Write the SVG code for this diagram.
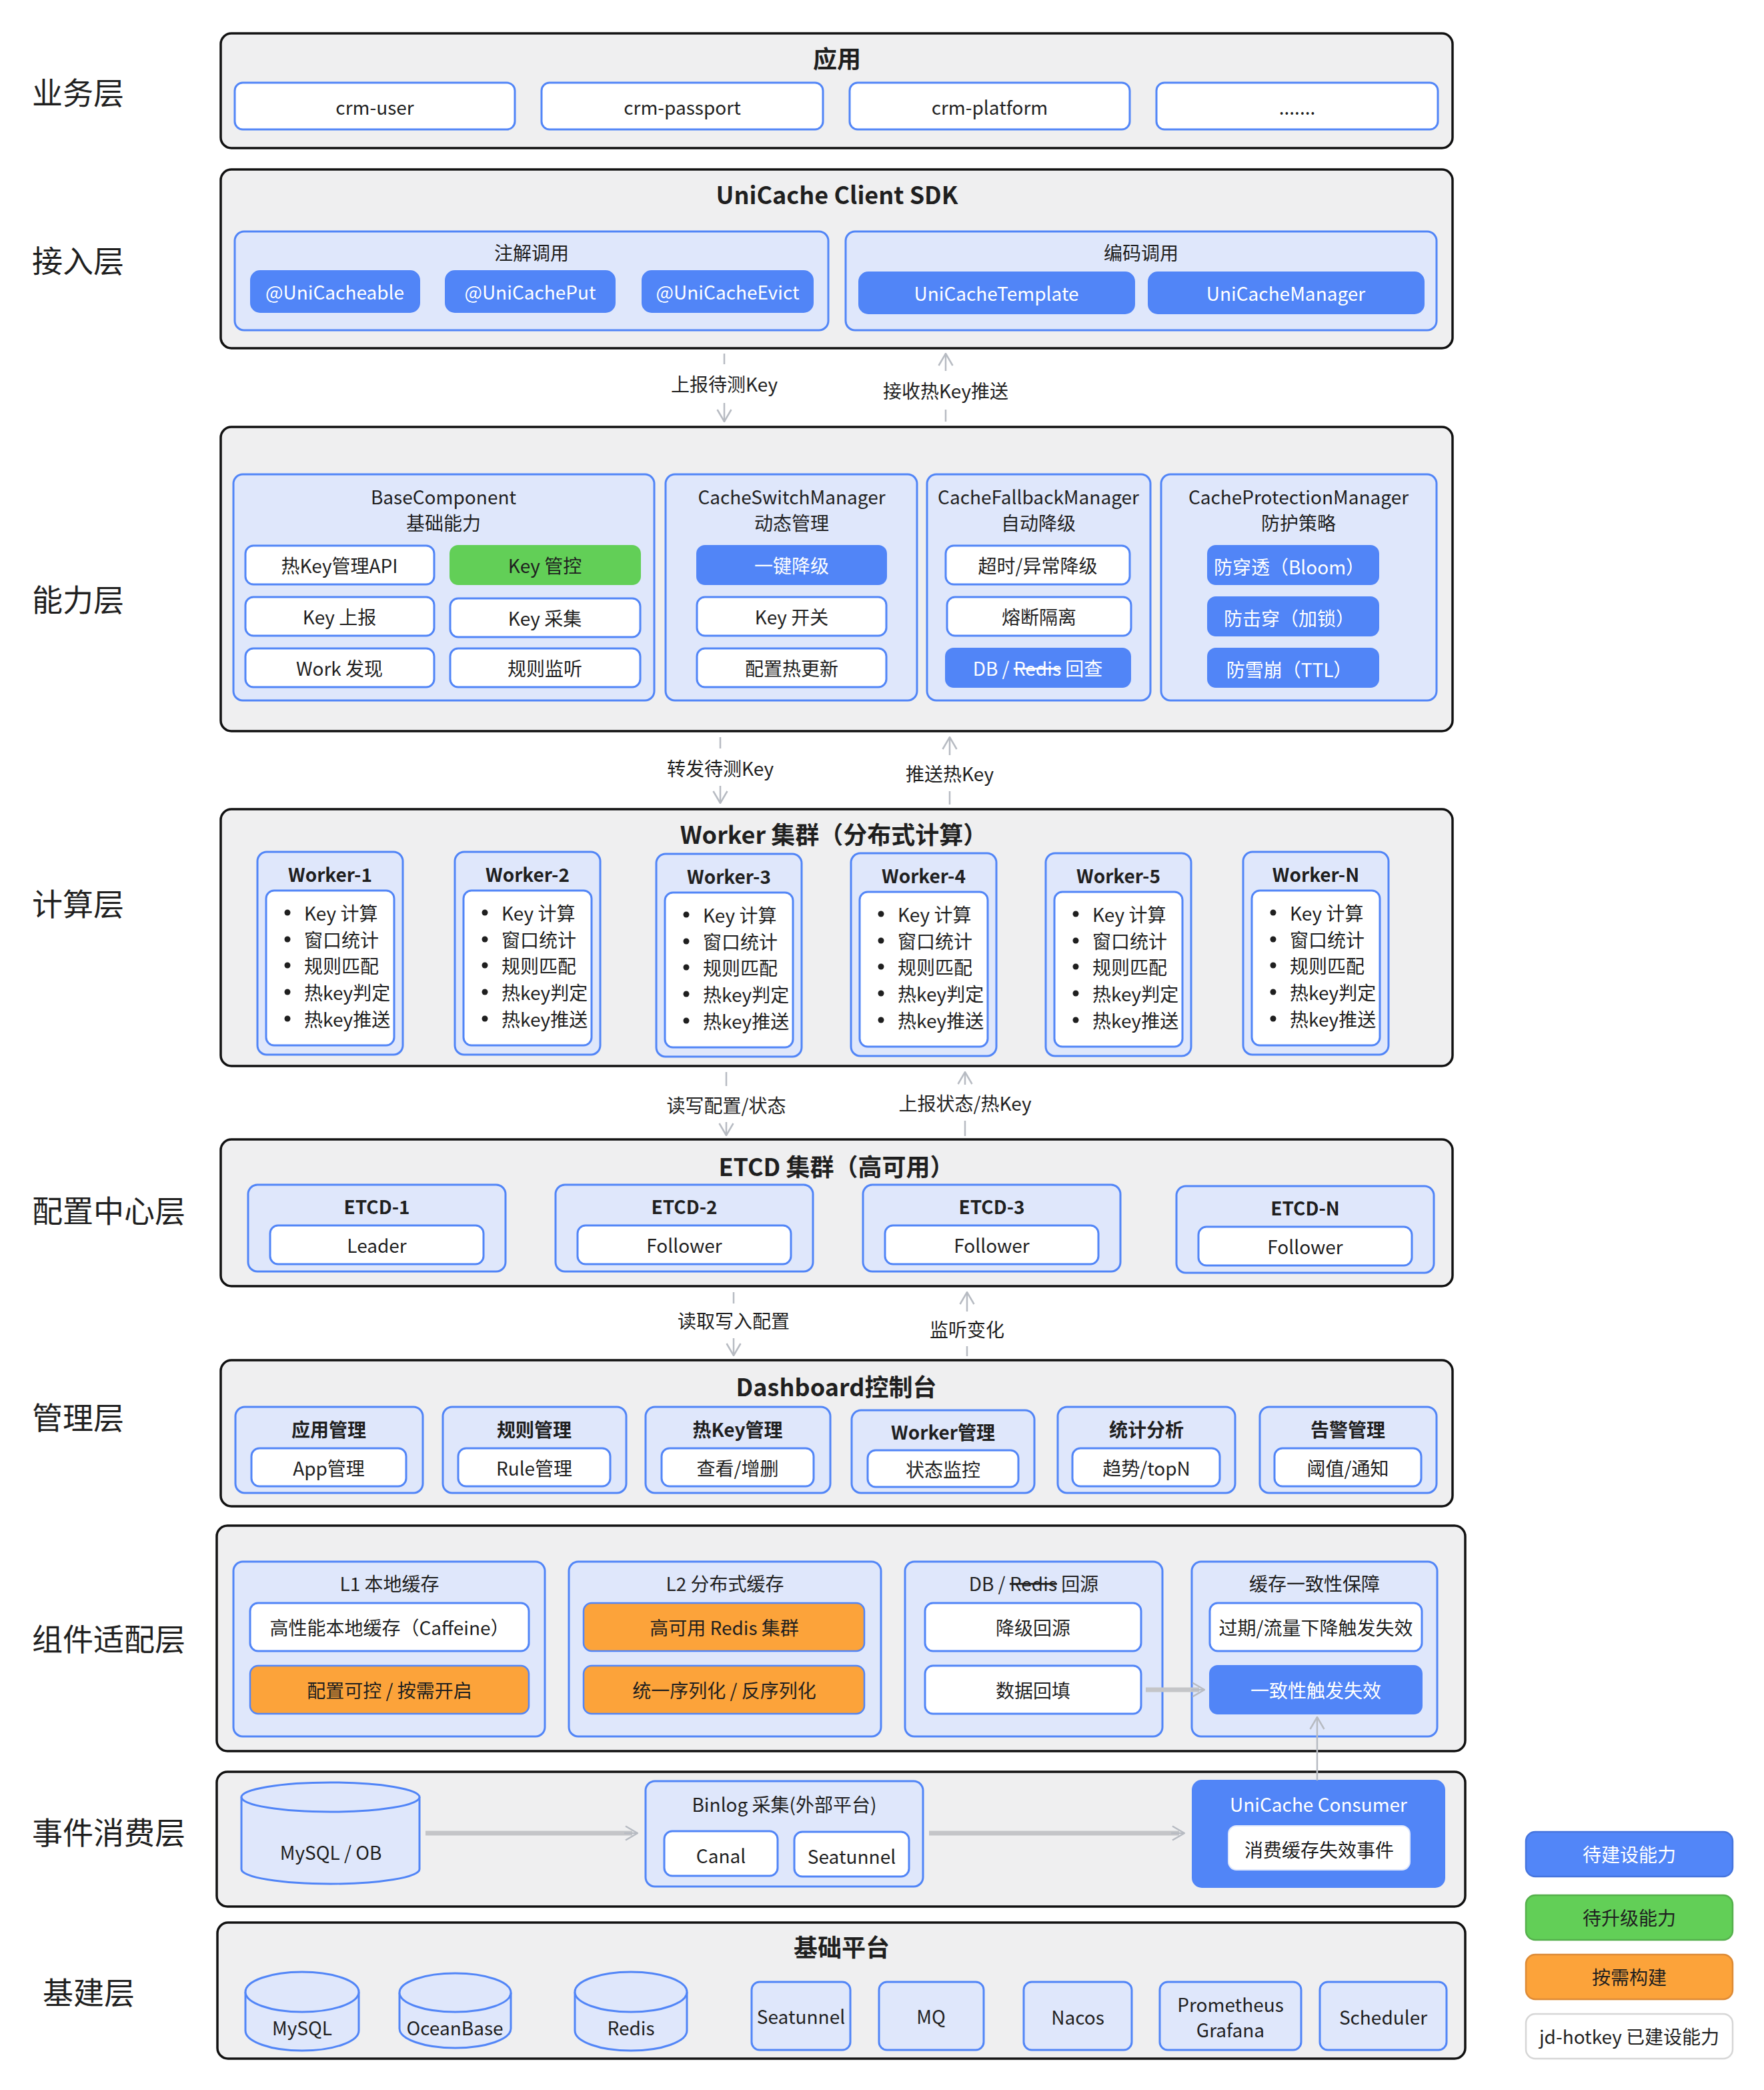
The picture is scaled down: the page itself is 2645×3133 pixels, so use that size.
<svg xmlns="http://www.w3.org/2000/svg" width="2645" height="3133" viewBox="0 0 2645 3133">
<style>
text{font-family:"Noto Sans CJK SC","Noto Sans",sans-serif;fill:#1f1f1f;text-anchor:middle;dominant-baseline:central;font-size:28px}
.lay{font-size:46px;text-anchor:start}
.h{font-size:36px;font-weight:700}
.b{font-weight:700}
.w{fill:#fff}
.l{text-anchor:start}
.cont{fill:#efeff0;stroke:#111;stroke-width:3.5}
.grp{fill:#dfe7fb;stroke:#5185f7;stroke-width:3}
.wn{fill:#fff;stroke:#5185f7;stroke-width:3}
.bn{fill:#5185f7;stroke:#5185f7;stroke-width:2}
.gn{fill:#62cf57;stroke:#62cf57;stroke-width:2}
.on{fill:#fca33a;stroke:#5185f7;stroke-width:2.5}
.cyl{fill:#dfe7fb;stroke:#5185f7;stroke-width:3}
.conn{stroke:#b7bbc2;stroke-width:2.5;fill:none}
.thick{stroke:#c4c5c8;stroke-width:7;fill:none}
.dot{fill:#1f1f1f}
</style>
<defs>
<marker id="ah" viewBox="0 0 20 24" markerWidth="20" markerHeight="24" refX="19" refY="12" orient="auto" markerUnits="userSpaceOnUse">
<path d="M1,1.5 L19,12 L1,22.5" fill="none" stroke="#b7bbc2" stroke-width="2.5"/>
</marker>
</defs>
<rect width="2645" height="3133" fill="#fff"/>

<g id="layer-labels">
<text class="lay" x="48" y="136">业务层</text>
<text class="lay" x="48" y="388">接入层</text>
<text class="lay" x="48" y="896">能力层</text>
<text class="lay" x="48" y="1352">计算层</text>
<text class="lay" x="48" y="1812">配置中心层</text>
<text class="lay" x="48" y="2122">管理层</text>
<text class="lay" x="48" y="2454">组件适配层</text>
<text class="lay" x="48" y="2744">事件消费层</text>
<text class="lay" x="64" y="2984">基建层</text>
</g>

<g id="business-layer">
<rect class="cont" x="331" y="50" width="1847" height="172" rx="16"/>
<text class="h" x="1255" y="86">应用</text>
<g id="crm-user"><rect class="wn" x="352" y="124" width="420" height="70" rx="12"/><text x="562" y="160">crm-user</text></g>
<g id="crm-passport"><rect class="wn" x="812" y="124" width="422" height="70" rx="12"/><text x="1023" y="160">crm-passport</text></g>
<g id="crm-platform"><rect class="wn" x="1274" y="124" width="420" height="70" rx="12"/><text x="1484" y="160">crm-platform</text></g>
<g id="app-more"><rect class="wn" x="1734" y="124" width="422" height="70" rx="12"/><text x="1945" y="160">.......</text></g>
</g>

<g id="access-layer">
<rect class="cont" x="331" y="254" width="1847" height="268" rx="16"/>
<text class="h" x="1255" y="290">UniCache Client SDK</text>
<g id="annotation-call">
<rect class="grp" x="352" y="347" width="890" height="148" rx="14"/>
<text x="797" y="378">注解调用</text>
<rect class="bn" x="376" y="406" width="253" height="62" rx="14"/><text class="w" x="502" y="437">@UniCacheable</text>
<rect class="bn" x="668" y="406" width="254" height="62" rx="14"/><text class="w" x="795" y="437">@UniCachePut</text>
<rect class="bn" x="963" y="406" width="256" height="62" rx="14"/><text class="w" x="1091" y="437">@UniCacheEvict</text>
</g>
<g id="code-call">
<rect class="grp" x="1268" y="347" width="886" height="148" rx="14"/>
<text x="1711" y="378">编码调用</text>
<rect class="bn" x="1288" y="408" width="413" height="62" rx="14"/><text class="w" x="1494" y="439">UniCacheTemplate</text>
<rect class="bn" x="1722" y="408" width="413" height="62" rx="14"/><text class="w" x="1928" y="439">UniCacheManager</text>
</g>
</g>

<g id="capability-layer">
<rect class="cont" x="331" y="640" width="1847" height="456" rx="16"/>
<g id="base-component">
<rect class="grp" x="350" y="711" width="631" height="339" rx="14"/>
<text x="665" y="744">BaseComponent</text>
<text x="665" y="783">基础能力</text>
<rect class="wn" x="368" y="818" width="283" height="58" rx="12"/><text x="509" y="847">热Key管理API</text>
<rect class="gn" x="675" y="818" width="285" height="58" rx="12"/><text x="817" y="847">Key 管控</text>
<rect class="wn" x="368" y="895" width="283" height="58" rx="12"/><text x="509" y="924">Key 上报</text>
<rect class="wn" x="675" y="897" width="285" height="58" rx="12"/><text x="817" y="926">Key 采集</text>
<rect class="wn" x="368" y="972" width="283" height="58" rx="12"/><text x="509" y="1001">Work 发现</text>
<rect class="wn" x="675" y="972" width="285" height="58" rx="12"/><text x="817" y="1001">规则监听</text>
</g>
<g id="cache-switch">
<rect class="grp" x="998" y="711" width="377" height="339" rx="14"/>
<text x="1187" y="744">CacheSwitchManager</text>
<text x="1187" y="783">动态管理</text>
<rect class="bn" x="1045" y="818" width="284" height="58" rx="12"/><text class="w" x="1187" y="847">一键降级</text>
<rect class="wn" x="1045" y="895" width="284" height="58" rx="12"/><text x="1187" y="924">Key 开关</text>
<rect class="wn" x="1045" y="972" width="284" height="58" rx="12"/><text x="1187" y="1001">配置热更新</text>
</g>
<g id="cache-fallback">
<rect class="grp" x="1390" y="711" width="335" height="339" rx="14"/>
<text x="1557" y="744">CacheFallbackManager</text>
<text x="1557" y="783">自动降级</text>
<rect class="wn" x="1418" y="818" width="276" height="58" rx="12"/><text x="1556" y="847">超时/异常降级</text>
<rect class="wn" x="1420" y="895" width="276" height="58" rx="12"/><text x="1558" y="924">熔断隔离</text>
<rect class="bn" x="1418" y="972" width="277" height="58" rx="12"/><text class="w" x="1556" y="1001">DB / <tspan text-decoration="line-through">Redis</tspan> 回查</text>
</g>
<g id="cache-protection">
<rect class="grp" x="1741" y="711" width="413" height="339" rx="14"/>
<text x="1947" y="744">CacheProtectionManager</text>
<text x="1947" y="783">防护策略</text>
<rect class="bn" x="1811" y="818" width="256" height="58" rx="12"/><text class="w" x="1933" y="849">防穿透（Bloom）</text>
<rect class="bn" x="1811" y="895" width="256" height="58" rx="12"/><text class="w" x="1933" y="926">防击穿（加锁）</text>
<rect class="bn" x="1811" y="972" width="256" height="58" rx="12"/><text class="w" x="1933" y="1003">防雪崩（TTL）</text>
</g>
</g>

<g id="compute-layer">
<rect class="cont" x="331" y="1213" width="1847" height="385" rx="16"/>
<text class="h" x="1250" y="1249">Worker 集群（分布式计算）</text>
<g id="worker-1" transform="translate(386,0)">
<rect class="grp" x="0" y="1277" width="218" height="304" rx="14"/><text class="b" x="109" y="1310">Worker-1</text>
<rect class="wn" x="13" y="1335" width="192" height="232" rx="12"/>
<circle class="dot" cx="45" cy="1368" r="4.5"/><text class="l" x="70" y="1368">Key 计算</text>
<circle class="dot" cx="45" cy="1408" r="4.5"/><text class="l" x="70" y="1408">窗口统计</text>
<circle class="dot" cx="45" cy="1447" r="4.5"/><text class="l" x="70" y="1447">规则匹配</text>
<circle class="dot" cx="45" cy="1487" r="4.5"/><text class="l" x="70" y="1487">热key判定</text>
<circle class="dot" cx="45" cy="1527" r="4.5"/><text class="l" x="70" y="1527">热key推送</text>
</g>
<g id="worker-2" transform="translate(682,0)">
<rect class="grp" x="0" y="1277" width="218" height="304" rx="14"/><text class="b" x="109" y="1310">Worker-2</text>
<rect class="wn" x="13" y="1335" width="192" height="232" rx="12"/>
<circle class="dot" cx="45" cy="1368" r="4.5"/><text class="l" x="70" y="1368">Key 计算</text>
<circle class="dot" cx="45" cy="1408" r="4.5"/><text class="l" x="70" y="1408">窗口统计</text>
<circle class="dot" cx="45" cy="1447" r="4.5"/><text class="l" x="70" y="1447">规则匹配</text>
<circle class="dot" cx="45" cy="1487" r="4.5"/><text class="l" x="70" y="1487">热key判定</text>
<circle class="dot" cx="45" cy="1527" r="4.5"/><text class="l" x="70" y="1527">热key推送</text>
</g>
<g id="worker-3" transform="translate(984,3)">
<rect class="grp" x="0" y="1277" width="218" height="304" rx="14"/><text class="b" x="109" y="1310">Worker-3</text>
<rect class="wn" x="13" y="1335" width="192" height="232" rx="12"/>
<circle class="dot" cx="45" cy="1368" r="4.5"/><text class="l" x="70" y="1368">Key 计算</text>
<circle class="dot" cx="45" cy="1408" r="4.5"/><text class="l" x="70" y="1408">窗口统计</text>
<circle class="dot" cx="45" cy="1447" r="4.5"/><text class="l" x="70" y="1447">规则匹配</text>
<circle class="dot" cx="45" cy="1487" r="4.5"/><text class="l" x="70" y="1487">热key判定</text>
<circle class="dot" cx="45" cy="1527" r="4.5"/><text class="l" x="70" y="1527">热key推送</text>
</g>
<g id="worker-4" transform="translate(1276,2)">
<rect class="grp" x="0" y="1277" width="218" height="304" rx="14"/><text class="b" x="109" y="1310">Worker-4</text>
<rect class="wn" x="13" y="1335" width="192" height="232" rx="12"/>
<circle class="dot" cx="45" cy="1368" r="4.5"/><text class="l" x="70" y="1368">Key 计算</text>
<circle class="dot" cx="45" cy="1408" r="4.5"/><text class="l" x="70" y="1408">窗口统计</text>
<circle class="dot" cx="45" cy="1447" r="4.5"/><text class="l" x="70" y="1447">规则匹配</text>
<circle class="dot" cx="45" cy="1487" r="4.5"/><text class="l" x="70" y="1487">热key判定</text>
<circle class="dot" cx="45" cy="1527" r="4.5"/><text class="l" x="70" y="1527">热key推送</text>
</g>
<g id="worker-5" transform="translate(1568,2)">
<rect class="grp" x="0" y="1277" width="218" height="304" rx="14"/><text class="b" x="109" y="1310">Worker-5</text>
<rect class="wn" x="13" y="1335" width="192" height="232" rx="12"/>
<circle class="dot" cx="45" cy="1368" r="4.5"/><text class="l" x="70" y="1368">Key 计算</text>
<circle class="dot" cx="45" cy="1408" r="4.5"/><text class="l" x="70" y="1408">窗口统计</text>
<circle class="dot" cx="45" cy="1447" r="4.5"/><text class="l" x="70" y="1447">规则匹配</text>
<circle class="dot" cx="45" cy="1487" r="4.5"/><text class="l" x="70" y="1487">热key判定</text>
<circle class="dot" cx="45" cy="1527" r="4.5"/><text class="l" x="70" y="1527">热key推送</text>
</g>
<g id="worker-n" transform="translate(1864,0)">
<rect class="grp" x="0" y="1277" width="218" height="304" rx="14"/><text class="b" x="109" y="1310">Worker-N</text>
<rect class="wn" x="13" y="1335" width="192" height="232" rx="12"/>
<circle class="dot" cx="45" cy="1368" r="4.5"/><text class="l" x="70" y="1368">Key 计算</text>
<circle class="dot" cx="45" cy="1408" r="4.5"/><text class="l" x="70" y="1408">窗口统计</text>
<circle class="dot" cx="45" cy="1447" r="4.5"/><text class="l" x="70" y="1447">规则匹配</text>
<circle class="dot" cx="45" cy="1487" r="4.5"/><text class="l" x="70" y="1487">热key判定</text>
<circle class="dot" cx="45" cy="1527" r="4.5"/><text class="l" x="70" y="1527">热key推送</text>
</g>
</g>

<g id="config-layer">
<rect class="cont" x="331" y="1708" width="1847" height="220" rx="16"/>
<text class="h" x="1254" y="1747">ETCD 集群（高可用）</text>
<g id="etcd-1" transform="translate(372,0)">
<rect class="grp" x="0" y="1776" width="386" height="130" rx="14"/><text class="b" x="193" y="1808">ETCD-1</text>
<rect class="wn" x="33" y="1837" width="320" height="58" rx="12"/><text x="193" y="1866">Leader</text>
</g>
<g id="etcd-2" transform="translate(833,0)">
<rect class="grp" x="0" y="1776" width="386" height="130" rx="14"/><text class="b" x="193" y="1808">ETCD-2</text>
<rect class="wn" x="33" y="1837" width="320" height="58" rx="12"/><text x="193" y="1866">Follower</text>
</g>
<g id="etcd-3" transform="translate(1294,0)">
<rect class="grp" x="0" y="1776" width="386" height="130" rx="14"/><text class="b" x="193" y="1808">ETCD-3</text>
<rect class="wn" x="33" y="1837" width="320" height="58" rx="12"/><text x="193" y="1866">Follower</text>
</g>
<g id="etcd-n" transform="translate(1764,2)">
<rect class="grp" x="0" y="1776" width="386" height="130" rx="14"/><text class="b" x="193" y="1808">ETCD-N</text>
<rect class="wn" x="33" y="1837" width="320" height="58" rx="12"/><text x="193" y="1866">Follower</text>
</g>
</g>

<g id="management-layer">
<rect class="cont" x="331" y="2039" width="1847" height="219" rx="16"/>
<text class="h" x="1254" y="2077">Dashboard控制台</text>
<g id="app-mgmt">
<rect class="grp" x="353" y="2109" width="281" height="129" rx="14"/><text class="b" x="493" y="2142">应用管理</text>
<rect class="wn" x="377" y="2171" width="232" height="57" rx="12"/><text x="493" y="2200">App管理</text>
</g>
<g id="rule-mgmt">
<rect class="grp" x="664" y="2109" width="275" height="129" rx="14"/><text class="b" x="801" y="2142">规则管理</text>
<rect class="wn" x="687" y="2171" width="228" height="57" rx="12"/><text x="801" y="2200">Rule管理</text>
</g>
<g id="hotkey-mgmt">
<rect class="grp" x="968" y="2109" width="277" height="129" rx="14"/><text class="b" x="1106" y="2142">热Key管理</text>
<rect class="wn" x="992" y="2171" width="228" height="57" rx="12"/><text x="1106" y="2200">查看/增删</text>
</g>
<g id="worker-mgmt">
<rect class="grp" x="1277" y="2114" width="274" height="124" rx="14"/><text class="b" x="1414" y="2146">Worker管理</text>
<rect class="wn" x="1301" y="2174" width="226" height="55" rx="12"/><text x="1414" y="2202">状态监控</text>
</g>
<g id="stats">
<rect class="grp" x="1586" y="2109" width="266" height="129" rx="14"/><text class="b" x="1719" y="2142">统计分析</text>
<rect class="wn" x="1608" y="2171" width="221" height="57" rx="12"/><text x="1719" y="2200">趋势/topN</text>
</g>
<g id="alert-mgmt">
<rect class="grp" x="1889" y="2109" width="265" height="129" rx="14"/><text class="b" x="2021" y="2142">告警管理</text>
<rect class="wn" x="1911" y="2171" width="220" height="57" rx="12"/><text x="2021" y="2200">阈值/通知</text>
</g>
</g>

<g id="adapter-layer">
<rect class="cont" x="325" y="2287" width="1872" height="338" rx="16"/>
<g id="l1-cache">
<rect class="grp" x="350" y="2341" width="467" height="262" rx="14"/>
<text x="584" y="2373">L1 本地缓存</text>
<rect class="wn" x="375" y="2403" width="418" height="72" rx="12"/><text x="584" y="2439">高性能本地缓存（Caffeine）</text>
<rect class="on" x="375" y="2497" width="418" height="72" rx="12"/><text x="584" y="2533">配置可控 / 按需开启</text>
</g>
<g id="l2-cache">
<rect class="grp" x="853" y="2341" width="468" height="262" rx="14"/>
<text x="1087" y="2373">L2 分布式缓存</text>
<rect class="on" x="875" y="2403" width="421" height="72" rx="12"/><text x="1086" y="2439">高可用 Redis 集群</text>
<rect class="on" x="875" y="2497" width="421" height="72" rx="12"/><text x="1086" y="2533">统一序列化 / 反序列化</text>
</g>
<g id="db-source">
<rect class="grp" x="1357" y="2341" width="386" height="262" rx="14"/>
<text x="1550" y="2373">DB / <tspan text-decoration="line-through">Redis</tspan> 回源</text>
<rect class="wn" x="1387" y="2403" width="324" height="72" rx="12"/><text x="1549" y="2439">降级回源</text>
<rect class="wn" x="1387" y="2497" width="324" height="72" rx="12"/><text x="1549" y="2533">数据回填</text>
</g>
<g id="consistency">
<rect class="grp" x="1787" y="2341" width="368" height="262" rx="14"/>
<text x="1971" y="2373">缓存一致性保障</text>
<rect class="wn" x="1814" y="2403" width="318" height="72" rx="12"/><text x="1973" y="2439">过期/流量下降触发失效</text>
<rect class="bn" x="1814" y="2497" width="318" height="72" rx="12"/><text class="w" x="1973" y="2533">一致性触发失效</text>
</g>
</g>

<g id="event-layer">
<rect class="cont" x="325" y="2656" width="1872" height="202" rx="16"/>
<g id="mysql-ob">
<path class="cyl" d="M362,2694 L362,2802 A133.5,22 0 0 0 629,2802 L629,2694"/>
<ellipse class="cyl" cx="495.5" cy="2694" rx="133.5" ry="22"/>
<text x="496" y="2776">MySQL / OB</text>
</g>
<g id="binlog">
<rect class="grp" x="968" y="2670" width="416" height="158" rx="14"/>
<text x="1176" y="2704">Binlog 采集(外部平台)</text>
<rect class="wn" x="996" y="2745" width="170" height="67" rx="12"/><text x="1081" y="2781">Canal</text>
<rect class="wn" x="1191" y="2746" width="172" height="67" rx="12"/><text x="1277" y="2782">Seatunnel</text>
</g>
<g id="unicache-consumer">
<rect class="bn" x="1788" y="2669" width="378" height="160" rx="14"/>
<text class="w" x="1977" y="2704">UniCache Consumer</text>
<rect x="1842" y="2737" width="272" height="66" rx="12" fill="#fff" stroke="#dfe7fb" stroke-width="2"/>
<text x="1978" y="2772">消费缓存失效事件</text>
</g>
</g>

<g id="infra-layer">
<rect class="cont" x="326" y="2882" width="1871" height="204" rx="16"/>
<text class="h" x="1262" y="2917">基础平台</text>
<g id="infra-mysql">
<path class="cyl" d="M368,2986 L368,3044 A85,30 0 0 0 538,3044 L538,2986"/>
<ellipse class="cyl" cx="453" cy="2986" rx="85" ry="30"/>
<text x="453" y="3039">MySQL</text>
</g>
<g id="infra-oceanbase">
<path class="cyl" d="M599,2987 L599,3041 A83.5,29 0 0 0 766,3041 L766,2987"/>
<ellipse class="cyl" cx="682.5" cy="2987" rx="83.5" ry="29"/>
<text x="682" y="3039">OceanBase</text>
</g>
<g id="infra-redis">
<path class="cyl" d="M862,2986 L862,3044 A84,30 0 0 0 1030,3044 L1030,2986"/>
<ellipse class="cyl" cx="946" cy="2986" rx="84" ry="30"/>
<text x="946" y="3039">Redis</text>
</g>
<g id="infra-seatunnel"><rect class="grp" x="1127" y="2971" width="148" height="102" rx="12"/><text x="1201" y="3022">Seatunnel</text></g>
<g id="infra-mq"><rect class="grp" x="1318" y="2971" width="157" height="102" rx="12"/><text x="1396" y="3022">MQ</text></g>
<g id="infra-nacos"><rect class="grp" x="1535" y="2971" width="162" height="102" rx="12"/><text x="1616" y="3023">Nacos</text></g>
<g id="infra-prometheus"><rect class="grp" x="1739" y="2971" width="212" height="102" rx="12"/><text x="1845" y="3004">Prometheus</text><text x="1845" y="3042">Grafana</text></g>
<g id="infra-scheduler"><rect class="grp" x="1979" y="2971" width="190" height="102" rx="12"/><text x="2074" y="3023">Scheduler</text></g>
</g>

<g id="connectors">
<path class="conn" d="M1086,530 L1086,546 M1086,604 L1086,632" marker-end="url(#ah)"/>
<text x="1086" y="575">上报待测Key</text>
<path class="conn" d="M1418,632 L1418,614 M1418,556 L1418,530" marker-end="url(#ah)"/>
<text x="1418" y="585">接收热Key推送</text>
<path class="conn" d="M1080,1105 L1080,1122 M1080,1178 L1080,1204" marker-end="url(#ah)"/>
<text x="1080" y="1151">转发待测Key</text>
<path class="conn" d="M1424,1206 L1424,1186 M1424,1132 L1424,1105" marker-end="url(#ah)"/>
<text x="1424" y="1159">推送热Key</text>
<path class="conn" d="M1089,1607 L1089,1628 M1089,1682 L1089,1702" marker-end="url(#ah)"/>
<text x="1089" y="1656">读写配置/状态</text>
<path class="conn" d="M1447,1703 L1447,1680 M1447,1626 L1447,1607" marker-end="url(#ah)"/>
<text x="1447" y="1653">上报状态/热Key</text>
<path class="conn" d="M1100,1937 L1100,1954 M1100,2006 L1100,2032" marker-end="url(#ah)"/>
<text x="1100" y="1979">读取写入配置</text>
<path class="conn" d="M1450,2033 L1450,2018 M1450,1966 L1450,1937" marker-end="url(#ah)"/>
<text x="1450" y="1992">监听变化</text>
<path class="thick" d="M1718,2533 L1798,2533"/>
<path class="conn" d="M1786,2533 L1806,2533" marker-end="url(#ah)"/>
<path class="thick" d="M638,2748 L948,2748"/>
<path class="conn" d="M936,2748 L956,2748" marker-end="url(#ah)"/>
<path class="thick" d="M1393,2748 L1768,2748"/>
<path class="conn" d="M1756,2748 L1776,2748" marker-end="url(#ah)"/>
<path class="conn" d="M1975,2669 L1975,2574" marker-end="url(#ah)"/>
</g>

<g id="legend">
<g id="legend-todo"><rect x="2288" y="2746" width="310" height="67" rx="14" fill="#5286f8" stroke="#4675de" stroke-width="2.5"/><text class="w" x="2443" y="2779">待建设能力</text></g>
<g id="legend-upgrade"><rect x="2288" y="2841" width="310" height="67" rx="14" fill="#62cf57" stroke="#55b04c" stroke-width="2.5"/><text x="2443" y="2874">待升级能力</text></g>
<g id="legend-ondemand"><rect x="2288" y="2930" width="310" height="67" rx="14" fill="#fca33a" stroke="#dd8a35" stroke-width="2.5"/><text x="2443" y="2963">按需构建</text></g>
<g id="legend-built"><rect x="2288" y="3019" width="310" height="67" rx="14" fill="#fff" stroke="#d6d6d6" stroke-width="2.5"/><text x="2443" y="3052">jd-hotkey 已建设能力</text></g>
</g>
</svg>
